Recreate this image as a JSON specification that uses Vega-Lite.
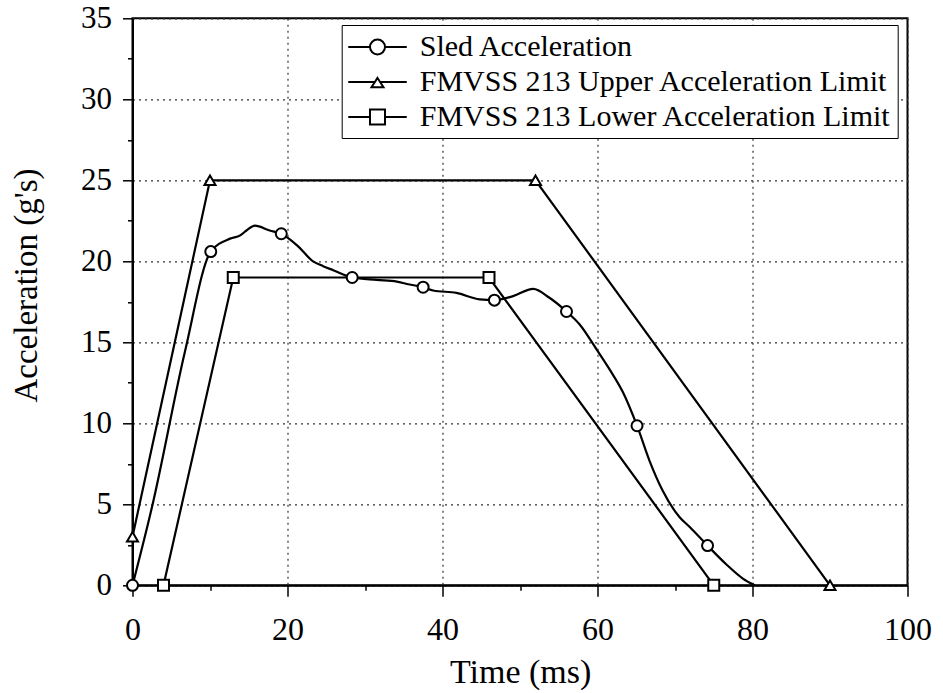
{
  "$schema": "https://vega.github.io/schema/vega-lite/v6.json",
  "autosize": {"type": "none"},
  "width": 775,
  "height": 567,
  "padding": {"left": 132.5, "top": 18.3, "right": 35.5, "bottom": 107.7},
  "background": "white",
  "config": {
    "font": "Liberation Serif",
    "view": {"stroke": "black", "strokeWidth": 2},
    "axis": {
      "domainColor": "black",
      "domainWidth": 2,
      "tickColor": "black",
      "tickWidth": 1.5,
      "labelFont": "Liberation Serif",
      "labelColor": "black",
      "labelFlush": false,
      "labelOverlap": false,
      "titleFont": "Liberation Serif",
      "titleColor": "black",
      "titleFontWeight": "normal",
      "gridColor": "#333333",
      "gridDash": [2, 4],
      "gridWidth": 1.2
    }
  },
  "data": {
    "values": [
      {"series": "Sled Acceleration", "t": 0, "a": 0, "marker": true},
      {"series": "Sled Acceleration", "t": 2.5, "a": 4.8},
      {"series": "Sled Acceleration", "t": 6.8, "a": 14.5},
      {"series": "Sled Acceleration", "t": 10.1, "a": 20.6, "marker": true},
      {"series": "Sled Acceleration", "t": 12.6, "a": 21.4},
      {"series": "Sled Acceleration", "t": 13.9, "a": 21.6},
      {"series": "Sled Acceleration", "t": 14.7, "a": 21.9},
      {"series": "Sled Acceleration", "t": 15.8, "a": 22.2},
      {"series": "Sled Acceleration", "t": 17.7, "a": 21.9},
      {"series": "Sled Acceleration", "t": 19.2, "a": 21.7, "marker": true},
      {"series": "Sled Acceleration", "t": 21.2, "a": 21.0},
      {"series": "Sled Acceleration", "t": 23.3, "a": 20.0},
      {"series": "Sled Acceleration", "t": 24.6, "a": 19.7},
      {"series": "Sled Acceleration", "t": 25.9, "a": 19.45},
      {"series": "Sled Acceleration", "t": 28.35, "a": 19.0, "marker": true},
      {"series": "Sled Acceleration", "t": 31.5, "a": 18.85},
      {"series": "Sled Acceleration", "t": 34.1, "a": 18.75},
      {"series": "Sled Acceleration", "t": 35.4, "a": 18.6},
      {"series": "Sled Acceleration", "t": 37.5, "a": 18.4, "marker": true},
      {"series": "Sled Acceleration", "t": 38.8, "a": 18.2},
      {"series": "Sled Acceleration", "t": 41.8, "a": 18.05},
      {"series": "Sled Acceleration", "t": 44.8, "a": 17.65},
      {"series": "Sled Acceleration", "t": 46.7, "a": 17.6, "marker": true},
      {"series": "Sled Acceleration", "t": 49.1, "a": 17.85},
      {"series": "Sled Acceleration", "t": 51.7, "a": 18.3},
      {"series": "Sled Acceleration", "t": 53.8, "a": 17.75},
      {"series": "Sled Acceleration", "t": 56.0, "a": 16.9, "marker": true},
      {"series": "Sled Acceleration", "t": 57.7, "a": 16.1},
      {"series": "Sled Acceleration", "t": 59.9, "a": 14.55},
      {"series": "Sled Acceleration", "t": 61.6, "a": 13.3},
      {"series": "Sled Acceleration", "t": 63.3, "a": 11.9},
      {"series": "Sled Acceleration", "t": 65.1, "a": 9.85, "marker": true},
      {"series": "Sled Acceleration", "t": 66.7, "a": 7.7},
      {"series": "Sled Acceleration", "t": 68.4, "a": 5.85},
      {"series": "Sled Acceleration", "t": 70.6, "a": 4.2},
      {"series": "Sled Acceleration", "t": 71.9, "a": 3.6},
      {"series": "Sled Acceleration", "t": 74.2, "a": 2.45, "marker": true},
      {"series": "Sled Acceleration", "t": 76.6, "a": 1.3},
      {"series": "Sled Acceleration", "t": 78.8, "a": 0.4},
      {"series": "Sled Acceleration", "t": 80.3, "a": 0},
      {"series": "FMVSS 213 Upper Acceleration Limit", "t": 0, "a": 3, "marker": true},
      {"series": "FMVSS 213 Upper Acceleration Limit", "t": 10, "a": 25, "marker": true},
      {"series": "FMVSS 213 Upper Acceleration Limit", "t": 52, "a": 25, "marker": true},
      {"series": "FMVSS 213 Upper Acceleration Limit", "t": 90, "a": 0, "marker": true},
      {"series": "FMVSS 213 Lower Acceleration Limit", "t": 4, "a": 0, "marker": true},
      {"series": "FMVSS 213 Lower Acceleration Limit", "t": 13, "a": 19, "marker": true},
      {"series": "FMVSS 213 Lower Acceleration Limit", "t": 46, "a": 19, "marker": true},
      {"series": "FMVSS 213 Lower Acceleration Limit", "t": 75, "a": 0, "marker": true}
    ]
  },
  "encoding": {
    "x": {
      "field": "t", "type": "quantitative",
      "scale": {"domain": [0, 100], "nice": false, "zero": false},
      "axis": {
        "values": [0, 10, 20, 30, 40, 50, 60, 70, 80, 90, 100],
        "labelExpr": "datum.value % 20 === 0 ? datum.label : ''",
        "tickSize": {"condition": {"test": "datum.value % 20 === 0", "value": 11}, "value": 5},
        "gridOpacity": {"condition": {"test": "datum.value % 20 === 0", "value": 1}, "value": 0},
        "title": "Time (ms)",
        "labelFontSize": 32,
        "labelPadding": 18,
        "titleFontSize": 34,
        "titleBaseline": "alphabetic",
        "titleY": 96.7,
        "titleX": 387.6,
        "titleAnchor": "middle",
        "titleAlign": "center"
      }
    },
    "y": {
      "field": "a", "type": "quantitative",
      "scale": {"domain": [0, 35], "nice": false},
      "axis": {
        "values": [0, 2.5, 5, 7.5, 10, 12.5, 15, 17.5, 20, 22.5, 25, 27.5, 30, 32.5, 35],
        "labelExpr": "datum.value % 5 === 0 ? datum.label : ''",
        "tickSize": {"condition": {"test": "datum.value % 5 === 0", "value": 10}, "value": 5},
        "gridOpacity": {"condition": {"test": "datum.value % 5 === 0", "value": 1}, "value": 0},
        "title": "Acceleration (g's)",
        "labelFontSize": 31,
        "labelPadding": 11,
        "titleFontSize": 33,
        "titleAngle": -90,
        "titleBaseline": "alphabetic",
        "titleAlign": "center",
        "titleX": -95.8,
        "titleY": 266.7
      }
    }
  },
  "layer": [
    {
      "transform": [{"filter": "datum.series === 'Sled Acceleration'"}],
      "mark": {"type": "line", "interpolate": "monotone", "color": "black", "strokeWidth": 2.2}
    },
    {
      "transform": [{"filter": "datum.series !== 'Sled Acceleration'"}],
      "mark": {"type": "line", "color": "black", "strokeWidth": 2.2},
      "encoding": {"detail": {"field": "series"}}
    },
    {
      "transform": [{"filter": "datum.marker"}],
      "mark": {"type": "point", "filled": true, "fill": "white", "stroke": "black", "strokeWidth": 2, "opacity": 1},
      "encoding": {
        "shape": {
          "field": "series",
          "scale": {
            "domain": ["Sled Acceleration", "FMVSS 213 Upper Acceleration Limit", "FMVSS 213 Lower Acceleration Limit"],
            "range": ["circle", "triangle-up", "square"]
          },
          "legend": null
        },
        "size": {
          "field": "series",
          "scale": {
            "domain": ["Sled Acceleration", "FMVSS 213 Upper Acceleration Limit", "FMVSS 213 Lower Acceleration Limit"],
            "range": [121, 121, 169]
          },
          "legend": null
        }
      }
    },
    {
      "mark": {"type": "point", "filled": false, "opacity": 0},
      "encoding": {
        "shape": {
          "field": "series",
          "scale": {
            "domain": ["Sled Acceleration", "FMVSS 213 Upper Acceleration Limit", "FMVSS 213 Lower Acceleration Limit"],
            "range": [
              "M-1.03,0H0.42M1.42,0H2.87M0.42,0A0.5,0.5 0 1 0 1.42,0A0.5,0.5 0 1 0 0.42,0Z",
              "M-1.03,0H0.75M1.09,0H2.87M0.92,-0.27L1.32,0.35L0.52,0.35Z",
              "M-1.03,0H0.42M1.42,0H2.87M0.42,-0.5H1.42V0.5H0.42Z"
            ]
          },
          "legend": {
            "title": null,
            "orient": "none",
            "legendX": 209.2,
            "legendY": 6.7,
            "symbolSize": 900,
            "symbolStrokeWidth": 2,
            "symbolStrokeColor": "black",
            "symbolFillColor": "white",
            "symbolOpacity": 1,
            "labelFont": "Liberation Serif",
            "labelFontSize": 30,
            "labelColor": "black",
            "labelOffset": 40,
            "labelLimit": 700,
            "rowPadding": 4,
            "padding": 6,
            "strokeColor": "black",
            "fillColor": "white",
            "cornerRadius": 0,
            "encode": {
              "legend": {
                "update": {
                  "strokeWidth": {"value": 1.5}
                }
              },
              "symbols": {
                "update": {
                  "opacity": {"value": 1},
                  "fill": {"value": "white"},
                  "stroke": {"value": "black"},
                  "strokeWidth": {"value": 2}
                }
              }
            }
          }
        }
      }
    }
  ],
  "resolve": {"scale": {"shape": "independent", "size": "independent"}, "legend": {"shape": "independent"}}
}
